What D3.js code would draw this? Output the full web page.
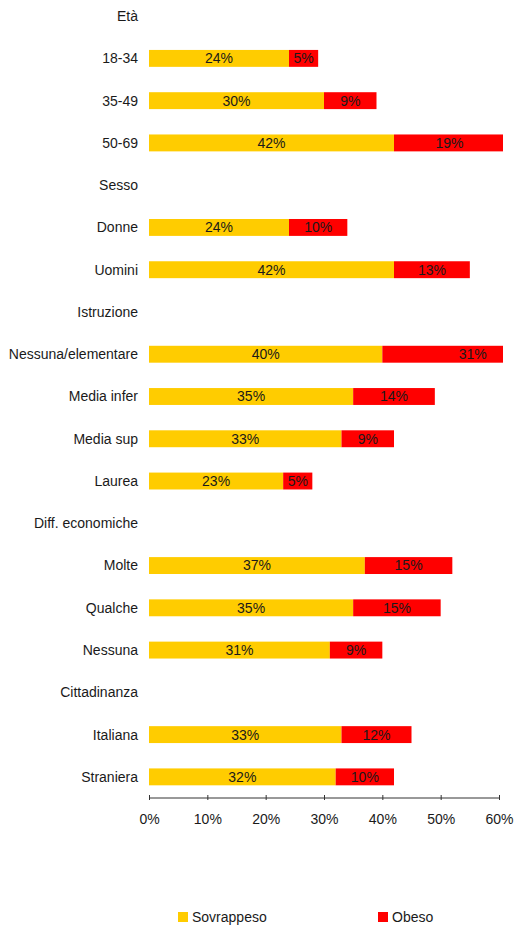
<!DOCTYPE html>
<html><head><meta charset="utf-8">
<script src="https://cdn.jsdelivr.net/npm/d3@7"></script>
<style>body{margin:0;background:#fff}svg{display:block}text{font-family:"Liberation Sans",Arial,sans-serif;fill:#1a1a1a}</style>
</head><body><svg id="c" width="514" height="926"></svg>
<script>
const categories = ["Età","18-34","35-49","50-69","Sesso","Donne","Uomini","Istruzione","Nessuna/elementare","Media infer","Media sup","Laurea","Diff. economiche","Molte","Qualche","Nessuna","Cittadinanza","Italiana","Straniera"];
const sovrappeso = [null,24,30,42,null,24,42,null,40,35,33,23,null,37,35,31,null,33,32];
const obeso = [null,5,9,19,null,10,13,null,31,14,9,5,null,15,15,9,null,12,10];
const ticks = [0,10,20,30,40,50,60];
const seriesNames = ["Sovrappeso","Obeso"];
const colors = ["#FFCC00","#FF0000"];

const svg = d3.select("#c");
const x = d3.scaleLinear().domain([0,60]).range([149,499]);
const y = d3.scaleBand().domain(categories).range([-5,798]).paddingInner(0.6).paddingOuter(0.3);
const clipRight = 503;
svg.append("defs").append("clipPath").attr("id","pc").append("rect").attr("x",0).attr("y",0).attr("width",clipRight).attr("height",926);

const g = svg.append("g").attr("clip-path","url(#pc)");
categories.forEach((c,i)=>{
  if(sovrappeso[i]==null) return;
  const vals=[sovrappeso[i],obeso[i]];
  let acc=0;
  vals.forEach((v,k)=>{
    g.append("rect").attr("x",x(acc)).attr("y",y(c)).attr("width",x(acc+v)-x(acc)).attr("height",y.bandwidth()).attr("fill",colors[k]);
    g.append("text").attr("x",(x(acc)+x(acc+v))/2).attr("y",y(c)+y.bandwidth()/2).attr("dy","0.35em").attr("text-anchor","middle").attr("font-size",14).text(v+"%");
    acc+=v;
  });
});

svg.append("g").selectAll("text").data(categories).join("text")
  .attr("x",138).attr("y",d=>y(d)+y.bandwidth()/2).attr("dy","0.35em").attr("text-anchor","end").attr("font-size",14).text(d=>d);

const ax = svg.append("g").attr("transform","translate(0,798)")
  .call(d3.axisBottom(x).tickValues(ticks).tickFormat(d=>d+"%").tickSize(4).tickPadding(12));
ax.select(".domain").attr("stroke","#333").attr("d","M149,0H499");
ax.selectAll(".tick line").attr("stroke","#333").attr("y1",-3).attr("y2",2);
ax.selectAll(".tick text").attr("font-size",14).attr("font-family","Liberation Sans, Arial, sans-serif").attr("fill","#1a1a1a");

const leg = svg.append("g");
const lx=[178,378];
seriesNames.forEach((s,k)=>{
  leg.append("rect").attr("x",lx[k]).attr("y",912).attr("width",10).attr("height",10).attr("fill",colors[k]);
  leg.append("text").attr("x",lx[k]+14).attr("y",917).attr("dy","0.35em").attr("font-size",14).text(s);
});
</script></body></html>
